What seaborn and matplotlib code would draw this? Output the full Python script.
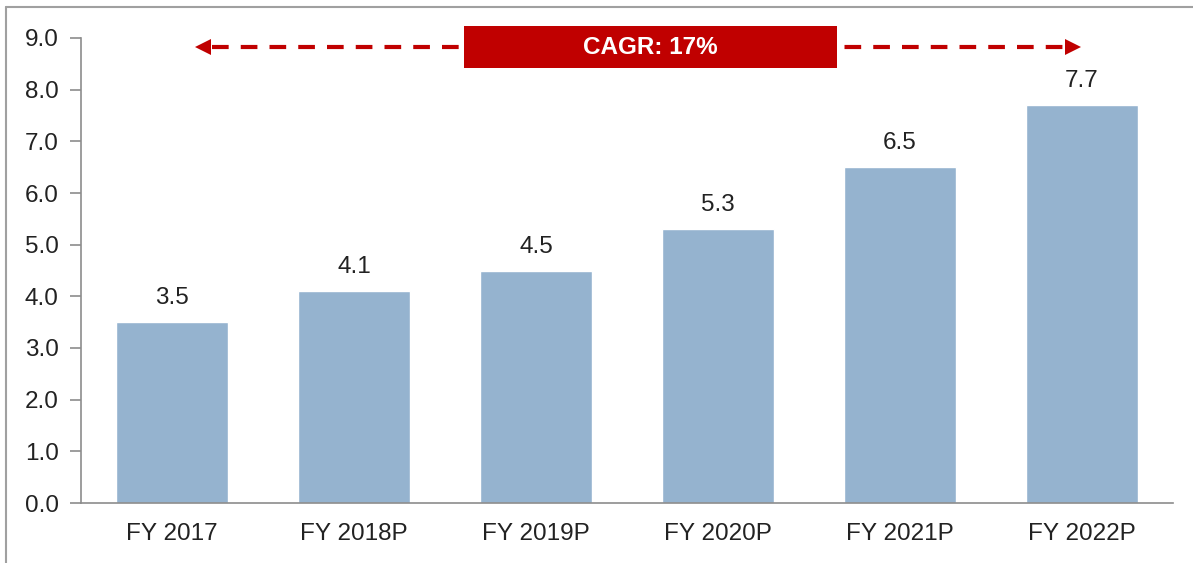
import matplotlib
matplotlib.use("Agg")
import matplotlib.pyplot as plt
from matplotlib.lines import Line2D
from matplotlib.patches import Rectangle
import seaborn as sns
import pandas as pd

categories = ["FY 2017", "FY 2018P", "FY 2019P", "FY 2020P", "FY 2021P", "FY 2022P"]
values = [3.5, 4.1, 4.5, 5.3, 6.5, 7.7]
yticks = [0.0, 1.0, 2.0, 3.0, 4.0, 5.0, 6.0, 7.0, 8.0, 9.0]
cagr_label = "CAGR: 17%"

sns.set_theme(style="white")
plt.rcParams["font.family"] = ["Liberation Sans", "DejaVu Sans"]

df = pd.DataFrame({"year": categories, "value": values})

fig = plt.figure(figsize=(11.93, 5.63), dpi=100)
ax = fig.add_axes([81 / 1193, 60 / 563, 1092 / 1193, 465 / 563])

sns.barplot(data=df, x="year", y="value", color="#95B3CF", saturation=1,
            width=0.62, ax=ax)

ax.set_xlim(-0.5, 5.5)
ax.set_ylim(0, 9)
ax.set_yticks(yticks)
ax.set_yticklabels([f"{t:.1f}" for t in yticks])
ax.set_xlabel("")
ax.set_ylabel("")

fs = 17.5
for s in ["top", "right"]:
    ax.spines[s].set_visible(False)
for s in ["left", "bottom"]:
    ax.spines[s].set_color("#8c8c8c")
    ax.spines[s].set_linewidth(1.2)
ax.tick_params(axis="y", which="both", left=True, length=8, width=1.2,
               color="#8c8c8c", labelsize=fs, labelcolor="#222222", pad=8)
ax.tick_params(axis="x", bottom=False, labelsize=fs, labelcolor="#222222", pad=8.5)

for i, v in enumerate(values):
    ax.text(i, v + 0.25, f"{v:.1f}", ha="center", va="bottom",
            fontsize=fs, color="#222222")

# dashed double arrow for the growth annotation
red = "#C00000"
y_arrow = 8.83
ax.plot([0.22, 4.92], [y_arrow, y_arrow], color=red, lw=3, linestyle=(0, (4, 2.9)),
        clip_on=False, solid_capstyle="butt", dash_capstyle="butt")
ax.plot([0.17], [y_arrow], marker="<", markersize=12, color=red, clip_on=False,
        markeredgewidth=0)
ax.plot([4.95], [y_arrow], marker=">", markersize=12, color=red, clip_on=False,
        markeredgewidth=0)
box = Rectangle((1.604, 8.42), 2.05, 0.81, facecolor=red, edgecolor="none",
                clip_on=False, zorder=5)
ax.add_patch(box)
ax.text(1.604 + 1.025, 8.825, cagr_label, ha="center", va="center",
        color="white", fontsize=fs, fontweight="bold", zorder=6)

# outer frame (left and top edges)
fig.add_artist(Line2D([6.5 / 1193, 6.5 / 1193], [0, 1 - 6.5 / 563],
                      transform=fig.transFigure, color="#a0a0a0", lw=1.5))
fig.add_artist(Line2D([6.5 / 1193, 1], [1 - 6.5 / 563, 1 - 6.5 / 563],
                      transform=fig.transFigure, color="#a0a0a0", lw=1.5))

fig.savefig("out.png", dpi=100)
